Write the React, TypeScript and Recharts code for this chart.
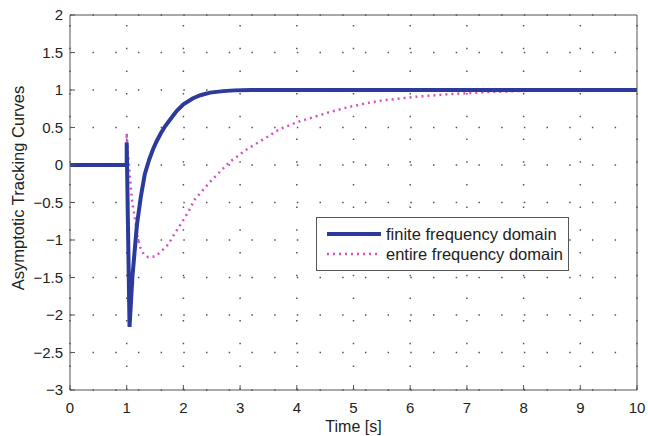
import React from 'react';
import { LineChart, Line, XAxis, YAxis, CartesianGrid, Legend } from 'recharts';

const xTicks = [0, 1, 2, 3, 4, 5, 6, 7, 8, 9, 10];
const yTicks = [-3, -2.5, -2, -1.5, -1, -0.5, 0, 0.5, 1, 1.5, 2];

const finiteT = [0, 1, 1, 1.05, 1.1, 1.18, 1.25, 1.32, 1.4, 1.47, 1.53, 1.6, 1.68, 1.76, 1.88, 2.0, 2.17, 2.3, 2.47, 2.7, 2.9, 3.2, 10];
const finiteY = [0, 0, 0.3, -2.16, -1.5, -0.8, -0.42, -0.12, 0.08, 0.22, 0.32, 0.42, 0.52, 0.6, 0.72, 0.81, 0.89, 0.93, 0.965, 0.985, 0.995, 1, 1];

const entireT = [0, 1, 1, 1.02, 1.05, 1.07, 1.1, 1.15, 1.19, 1.24, 1.3, 1.38, 1.5, 1.6, 1.73, 1.85, 1.97, 2.09, 2.2, 2.5, 2.8, 3.1, 3.45, 3.7, 4.0, 4.3, 4.6, 4.9, 5.2, 5.5, 6.1, 6.7, 7.3, 7.9, 8.5, 9.2, 10];
const entireY = [0, 0, 0.43, 0.16, -0.07, -0.29, -0.51, -0.73, -0.96, -1.1, -1.19, -1.23, -1.22, -1.16, -1.06, -0.91, -0.77, -0.62, -0.46, -0.2, 0.03, 0.2, 0.36, 0.48, 0.57, 0.64, 0.71, 0.77, 0.82, 0.86, 0.91, 0.945, 0.97, 0.985, 0.995, 1, 1];

const seriesNames = ['finite frequency domain', 'entire frequency domain'];
const BLUE = '#2b3a9c';
const PINK = '#d64fc8';

const finiteData = finiteT.map((t, i) => ({ t, y: finiteY[i] }));
const entireData = entireT.map((t, i) => ({ t, y: entireY[i] }));

const FONT = '"Liberation Sans", Arial, Helvetica, sans-serif';
const fmt = (v: number) => (v < 0 ? '\u2212' + String(Math.abs(v)) : String(v));

const XTick = (props: any) => {
  const { x, y, payload } = props;
  return (
    <g>
      <line x1={x} x2={x} y1={y} y2={y - 5} stroke="#555" strokeWidth={1} />
      <text x={x} y={y + 23} textAnchor="middle" fontSize={15} fontFamily={FONT} fill="#222">{fmt(payload.value)}</text>
    </g>
  );
};
const XTopTick = (props: any) => {
  const { x, y } = props;
  return <line x1={x} x2={x} y1={y} y2={y + 5} stroke="#555" strokeWidth={1} />;
};
const YTick = (props: any) => {
  const { x, y, payload } = props;
  return (
    <g>
      <line x1={x} x2={x + 5} y1={y} y2={y} stroke="#555" strokeWidth={1} />
      <text x={x - 7} y={y + 5} textAnchor="end" fontSize={15} fontFamily={FONT} fill="#222">{fmt(payload.value)}</text>
    </g>
  );
};
const YRightTick = (props: any) => {
  const { x, y } = props;
  return <line x1={x} x2={x - 5} y1={y} y2={y} stroke="#555" strokeWidth={1} />;
};

const renderLegend = () => (
  <div style={{ width: 251, height: 52, border: '1px solid #555', background: '#fff', fontFamily: FONT, fontSize: 16.5, color: '#222', boxSizing: 'content-box' }}>
    <div style={{ display: 'flex', alignItems: 'center', height: 18, marginTop: 7 }}>
      <svg width={64} height={10} style={{ marginLeft: 10 }}>
        <line x1={0} x2={54} y1={5} y2={5} stroke={BLUE} strokeWidth={4} />
      </svg>
      <span style={{ marginLeft: -5 }}>{seriesNames[0]}</span>
    </div>
    <div style={{ display: 'flex', alignItems: 'center', height: 18, marginTop: 2 }}>
      <svg width={64} height={10} style={{ marginLeft: 10 }}>
        <line x1={0} x2={54} y1={5} y2={5} stroke={PINK} strokeWidth={2.5} strokeDasharray="2 4" />
      </svg>
      <span style={{ marginLeft: -5 }}>{seriesNames[1]}</span>
    </div>
  </div>
);

export default function App() {
  return (
    <div style={{ position: 'absolute', left: 0, top: 0, width: 648, height: 436, background: '#fff' }}>
      <LineChart width={648} height={436} margin={{ top: 0, right: 0, left: 20, bottom: 0 }}>
        <CartesianGrid xAxisId="b" yAxisId="l" vertical={false} stroke="#555" strokeWidth={1.5} strokeDasharray="1.5 21.2" strokeDashoffset={-22.5} />
        <CartesianGrid xAxisId="b" yAxisId="l" horizontal={false} stroke="#555" strokeWidth={1.5} strokeDasharray="1.5 21.2" strokeDashoffset={-10} />
        <XAxis
          xAxisId="b"
          dataKey="t"
          type="number"
          domain={[0, 10]}
          ticks={xTicks}
          allowDataOverflow
          height={46}
          tickSize={0}
          tickMargin={0}
          tickLine={false}
          stroke="#555"
          tick={<XTick />}
          interval={0}
          label={{ value: 'Time [s]', position: 'insideBottom', offset: 4, fontSize: 16, fontFamily: FONT, fill: '#222' }}
        />
        <XAxis
          xAxisId="top"
          orientation="top"
          dataKey="t"
          type="number"
          domain={[0, 10]}
          ticks={xTicks}
          height={15}
          tickSize={0}
          tickMargin={0}
          tickLine={false}
          stroke="#555"
          tick={<XTopTick />}
          interval={0}
        />
        <YAxis
          yAxisId="l"
          type="number"
          domain={[-3, 2]}
          ticks={yTicks}
          allowDataOverflow
          width={50}
          tickSize={0}
          tickMargin={0}
          tickLine={false}
          stroke="#555"
          tick={<YTick />}
          interval={0}
          label={{
            content: () => (
              <text x={18} y={188} transform="rotate(-90 18 188)" textAnchor="middle" dominantBaseline="central" fontSize={16.5} fontFamily={FONT} fill="#222">
                Asymptotic Tracking Curves
              </text>
            ),
          }}
        />
        <YAxis
          yAxisId="r"
          orientation="right"
          type="number"
          domain={[-3, 2]}
          ticks={yTicks}
          width={11}
          tickSize={0}
          tickMargin={0}
          tickLine={false}
          stroke="#555"
          tick={<YRightTick />}
          interval={0}
        />
        <Line xAxisId="b" yAxisId="l" data={entireData} dataKey="y" name={seriesNames[1]} type="linear" stroke={PINK} strokeWidth={2.5} strokeDasharray="2 4" dot={false} isAnimationActive={false} />
        <Line xAxisId="b" yAxisId="l" data={finiteData} dataKey="y" name={seriesNames[0]} type="linear" stroke={BLUE} strokeWidth={4} dot={false} isAnimationActive={false} />
        <Legend layout="vertical" align="center" verticalAlign="middle" content={renderLegend} wrapperStyle={{ left: 316, top: 217, width: 253, height: 54 }} />
      </LineChart>
    </div>
  );
}
